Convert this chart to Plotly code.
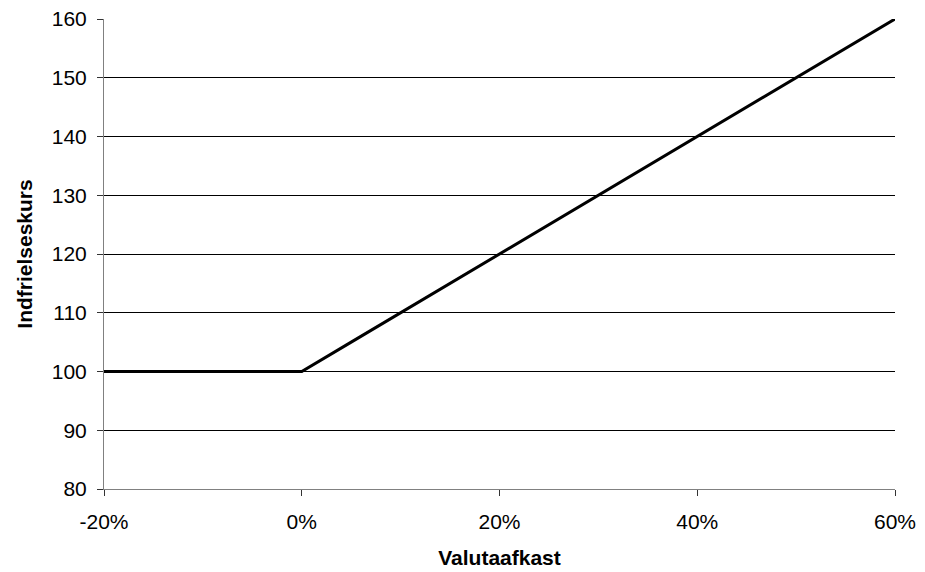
import plotly.graph_objects as go

valutaafkast = [-0.20, -0.15, -0.10, -0.05, 0.00, 0.05, 0.10, 0.15, 0.20, 0.25, 0.30, 0.35, 0.40, 0.45, 0.50, 0.55, 0.60]
indfrielseskurs = [100, 100, 100, 100, 100, 105, 110, 115, 120, 125, 130, 135, 140, 145, 150, 155, 160]

x_ticks = [-0.2, 0.0, 0.2, 0.4, 0.6]
x_ticklabels = ["-20%", "0%", "20%", "40%", "60%"]
y_ticks = [80, 90, 100, 110, 120, 130, 140, 150, 160]

font_family = "Liberation Sans, Arial, sans-serif"

fig = go.Figure()
fig.add_trace(go.Scatter(
    x=valutaafkast, y=indfrielseskurs, mode="lines",
    line=dict(color="black", width=3), showlegend=False, hoverinfo="skip",
))

fig.update_layout(
    width=917, height=564,
    margin=dict(l=96, r=30, t=11, b=83),
    paper_bgcolor="white", plot_bgcolor="white",
    font=dict(family=font_family, size=21, color="black"),
)
fig.update_xaxes(
    range=[-0.2, 0.6], tickvals=x_ticks, ticktext=x_ticklabels,
    showgrid=False, zeroline=False, automargin=False,
    showline=True, linecolor="#808080", linewidth=1,
    ticks="outside", ticklen=6, tickcolor="#333333", tickwidth=1,
    ticklabelstandoff=8, ticklabeloverflow="allow",
    title=dict(text="<b>Valutaafkast</b>", font=dict(size=21), standoff=18),
)
fig.update_yaxes(
    range=[80, 160], tickvals=y_ticks,
    showgrid=True, gridcolor="black", gridwidth=1, zeroline=False, automargin=False,
    showline=True, linecolor="#808080", linewidth=1,
    ticks="outside", ticklen=6, tickcolor="#333333", tickwidth=1,
    ticklabelstandoff=6, ticklabeloverflow="allow",
    title=dict(text="<b>Indfrielseskurs</b>", font=dict(size=21), standoff=13),
)

fig.write_html("out.html")
